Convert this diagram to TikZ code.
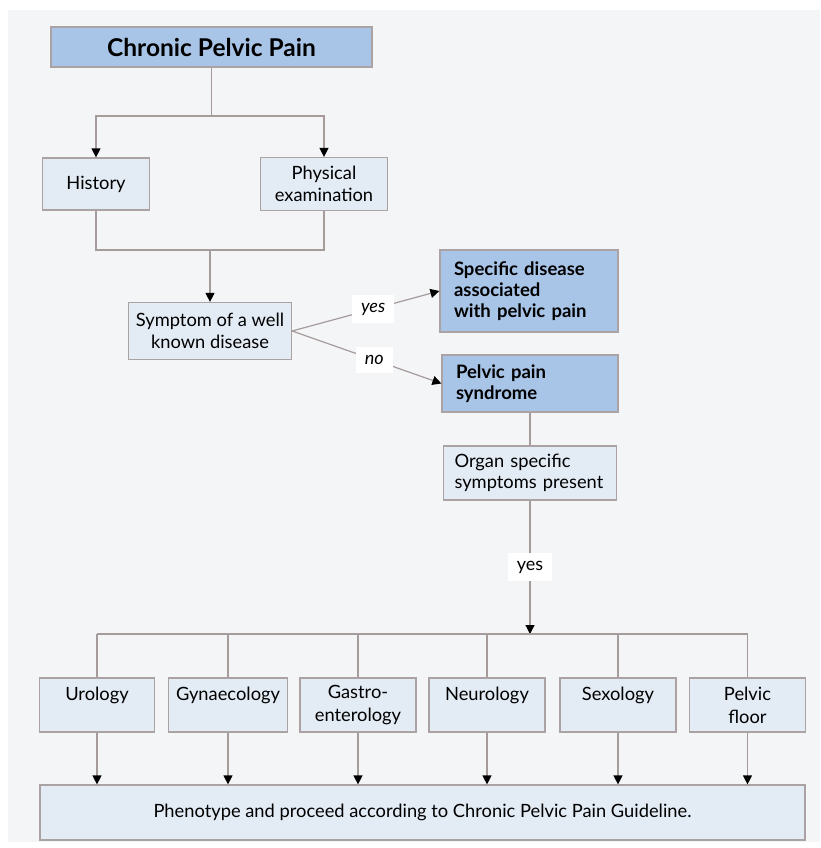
\documentclass[tikz,border=0pt]{standalone}
\usepackage{fontspec}
\setmainfont{Lato}
\usetikzlibrary{calc,arrows.meta,positioning,backgrounds}

\definecolor{panelbg}{HTML}{F3F5F7}
\definecolor{lightbox}{HTML}{E3EBF5}
\definecolor{darkbox}{HTML}{A8C4E6}
\definecolor{boxline}{HTML}{ABA3A3}
\definecolor{flowline}{HTML}{A69B9B}

\begin{document}
\begin{tikzpicture}[
  x=1pt, y=-1pt,
  lightnode/.style={rectangle, draw=boxline, line width=1.2pt, fill=lightbox,
    font=\fontsize{18.3}{21.5}\selectfont, align=center, inner sep=0pt},
  darknode/.style={rectangle, draw=boxline, line width=1.2pt, fill=darkbox,
    font=\fontsize{18.5}{20.8}\selectfont\bfseries, align=left, inner sep=0pt},
  catnode/.style={lightnode, font=\fontsize{18.3}{23}\selectfont, minimum height=54pt},
  flow/.style={draw=flowline, line width=1.2pt},
  arrow/.style={flow, -{Triangle[length=9pt, width=9pt, color=black]}},
  answer/.style={fill=white, font=\fontsize{18}{21}\selectfont\itshape,
    inner xsep=9pt, inner ysep=8pt}
]
  \useasboundingbox (0,0) rectangle (820,848);
  \fill[panelbg] (8,10) rectangle (820,842);

  % Top part
  \node[darknode, align=center, font=\fontsize{24.5}{28}\selectfont\bfseries,
    minimum width=321pt, minimum height=40pt] (cpp) at (211.5,47) {Chronic Pelvic Pain};
  \node[lightnode, minimum width=107pt, minimum height=52pt] (history) at (96,184) {History};
  \node[lightnode, minimum width=127pt, minimum height=53pt] (physical) at (324,184) {Physical\\examination};
  \node[lightnode, minimum width=163pt, minimum height=57pt] (symptom) at (210,331) {Symptom of a well\\known disease};

  % Decision boxes
  \node[darknode, text width=150pt, inner xsep=14pt, minimum height=82pt] (specific) at (529,291)
    {Specific disease\\associated\\with pelvic pain};
  \node[darknode, text width=148pt, inner xsep=14pt, minimum height=57pt] (syndrome) at (530,383.5)
    {Pelvic pain\\syndrome};
  \node[lightnode, align=left, text width=151pt, inner xsep=11pt, minimum height=54pt] (organ) at (530,473)
    {Organ specific\\symptoms present};

  % Specialties
  \node[catnode, minimum width=115pt] (urology) at (97,705) {Urology\\\mbox{}};
  \node[catnode, minimum width=119pt] (gynae) at (228,705) {Gynaecology\\\mbox{}};
  \node[catnode, minimum width=116pt] (gastro) at (358,705) {Gastro-\\enterology};
  \node[catnode, minimum width=116pt] (neuro) at (487,705) {Neurology\\\mbox{}};
  \node[catnode, minimum width=116pt] (sexo) at (618,705) {Sexology\\\mbox{}};
  \node[catnode, minimum width=116pt] (floor) at (747.5,705) {Pelvic\\floor};

  \node[lightnode, minimum width=765pt, minimum height=55pt] (guideline) at (422.5,812.5)
    {Phenotype and proceed according to Chronic Pelvic Pain Guideline.};

  % Helper points
  \coordinate (split) at (211.5,116);
  \coordinate (join) at (210,250);
  \coordinate (fork) at (530,634);

  % Edges
  \draw[flow] (cpp) -- (split);
  \draw[arrow] (split) -| (history);
  \draw[arrow] (split) -| (physical);
  \draw[flow] (history) |- (join) -| (physical);
  \draw[arrow] (join) -- (symptom);

  \draw[arrow] (symptom.east) -- node[answer, pos=0.55] {yes} (specific.west);
  \draw[arrow] (symptom.east) -- node[answer, pos=0.55] {no} (syndrome.west);
  \draw[flow] (syndrome) -- (organ);
  \draw[arrow] (organ) -- node[answer, font=\fontsize{18}{21}\selectfont] {yes} (fork);

  \draw[flow] (urology |- fork) -- (floor |- fork);
  \draw[flow] (urology |- fork) -- (urology);
  \draw[flow] (gynae |- fork) -- (gynae);
  \draw[flow] (gastro |- fork) -- (gastro);
  \draw[flow] (neuro |- fork) -- (neuro);
  \draw[flow] (sexo |- fork) -- (sexo);
  \draw[flow] (floor |- fork) -- (floor);

  \draw[arrow] (urology) -- (urology |- guideline.north);
  \draw[arrow] (gynae) -- (gynae |- guideline.north);
  \draw[arrow] (gastro) -- (gastro |- guideline.north);
  \draw[arrow] (neuro) -- (neuro |- guideline.north);
  \draw[arrow] (sexo) -- (sexo |- guideline.north);
  \draw[arrow] (floor) -- (floor |- guideline.north);

\end{tikzpicture}
\end{document}
